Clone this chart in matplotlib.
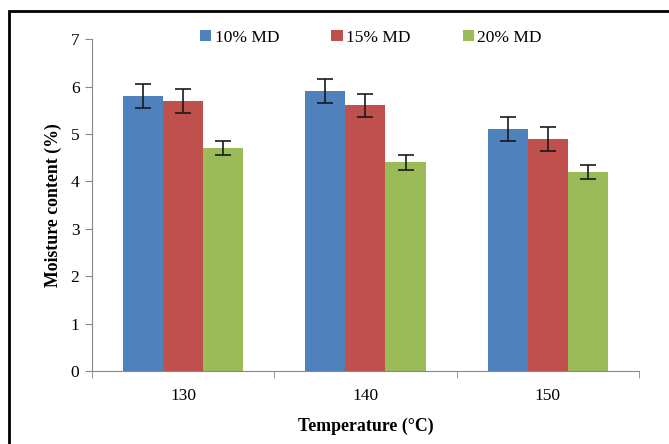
import numpy as np
import matplotlib.pyplot as plt
from matplotlib.patches import Rectangle

temps = ['130', '140', '150']
series = ['10% MD', '15% MD', '20% MD']
md10 = [5.8, 5.9, 5.1]
md15 = [5.7, 5.6, 4.9]
md20 = [4.7, 4.4, 4.2]
err10 = [0.25, 0.25, 0.25]
err15 = [0.25, 0.25, 0.25]
err20 = [0.15, 0.15, 0.15]
colors = ['#4F81BD', '#C0504D', '#9BBB59']

plt.rcParams['font.family'] = ['Liberation Serif', 'DejaVu Serif']

fig = plt.figure(figsize=(6.69, 4.44), dpi=100)
ax = fig.add_axes([0.1375, 0.164, 0.8175, 0.748])

x = np.arange(len(temps))
w = 0.22
vals = [md10, md15, md20]
errs = [err10, err15, err20]
for i in range(3):
    ax.bar(x + (i - 1) * w, vals[i], w, color=colors[i], label=series[i],
           yerr=errs[i], capsize=6,
           error_kw=dict(ecolor='#1a1a1a', elinewidth=1.2, capthick=1.2))

ax.set_xlim(-0.5, 2.5)
ax.set_ylim(0, 7)
ax.set_yticks(range(8))
ax.set_xticks(x)
ax.set_xticklabels(temps)
ax.set_xticks([-0.5, 0.5, 1.5, 2.5], minor=True)
ax.tick_params(axis='x', which='major', length=0, pad=12, labelsize=12.5)
ax.tick_params(axis='x', which='minor', length=5, color='#888888')
ax.tick_params(axis='y', length=5, color='#888888', labelsize=12.5, pad=4)
for s in ['top', 'right']:
    ax.spines[s].set_visible(False)
ax.spines['left'].set_color('#888888')
ax.spines['bottom'].set_color('#888888')

ax.set_ylabel('Moisture content (%)', fontsize=12.8, fontweight='bold', labelpad=6)
ax.set_xlabel('Temperature (\u00b0C)', fontsize=12.8, fontweight='bold', labelpad=10)

ax.legend(loc='upper center', bbox_to_anchor=(0.51, 1.075), ncol=3, frameon=False,
          fontsize=12.5, handlelength=0.65, handleheight=0.65, handletextpad=0.2,
          columnspacing=3.0)

fig.patches.append(Rectangle((9 / 669, -0.2), 1.2, 1.2 - 11 / 444,
                             transform=fig.transFigure, fill=False,
                             edgecolor='black', linewidth=2, clip_on=False))

fig.savefig('out.png', dpi=100)
